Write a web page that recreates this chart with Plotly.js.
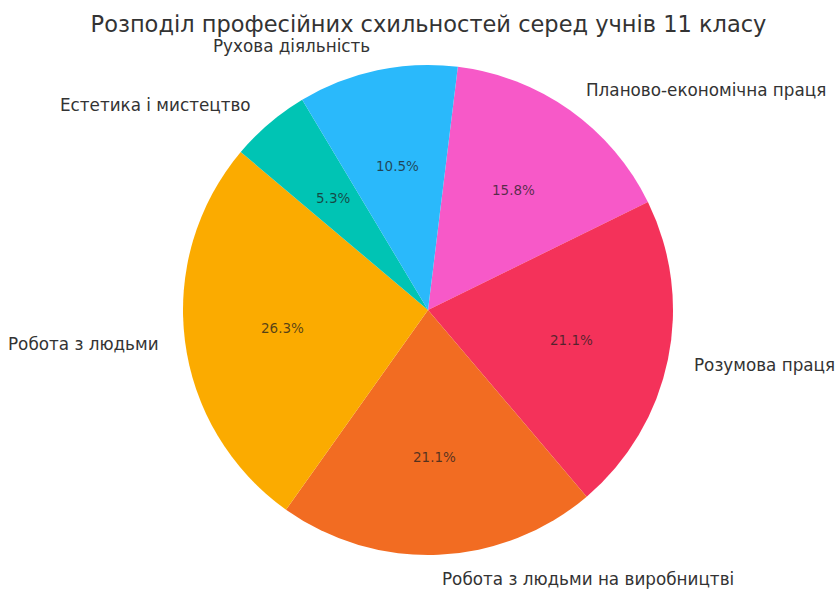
<!DOCTYPE html>
<html>
<head>
<meta charset="utf-8">
<script src="https://cdn.plot.ly/plotly-3.0.1.min.js"></script>
<style>html,body{margin:0;padding:0;background:#fff;}#chart{width:837px;height:589px;}</style>
</head>
<body>
<div id="chart"></div>
<script>
// Data (clockwise order starting near 12 o'clock)
const categories = ["Планово-економічна праця", "Розумова праця", "Робота з людьми на виробництві", "Робота з людьми", "Естетика і мистецтво", "Рухова діяльність"];
const counts = [3, 4, 4, 5, 1, 2];
const colors = ["#f759c8", "#f4325a", "#f26c22", "#fbab00", "#00c4b4", "#2ab9fb"];

// Layout constants (pixels)
const W = 837, H = 589;
const CX = 428, CY = 310, R = 245;
const ROT = 7; // degrees clockwise from 12 o'clock

const total = counts.reduce((a, b) => a + b, 0);
const annotations = [];
let start = 90 - ROT;
counts.forEach((v, i) => {
  const sweep = v / total * 360;
  const mid = (start - sweep / 2) * Math.PI / 180;
  start -= sweep;
  const lx = CX + 1.1 * R * Math.cos(mid);
  const ly = CY - 1.1 * R * Math.sin(mid);
  annotations.push({
    x: lx / W, y: 1 - ly / H, xref: "paper", yref: "paper",
    text: categories[i], showarrow: false,
    xanchor: Math.cos(mid) > 0 ? "left" : "right", yanchor: "middle",
    font: {family: "DejaVu Sans", size: 16.8, color: "#333333"}
  });
  const px = CX + 0.6 * R * Math.cos(mid);
  const py = CY - 0.6 * R * Math.sin(mid);
  annotations.push({
    x: px / W, y: 1 - py / H, xref: "paper", yref: "paper",
    text: (v / total * 100).toFixed(1) + "%", showarrow: false,
    xanchor: "center", yanchor: "middle",
    font: {family: "DejaVu Sans", size: 13.5, color: "rgba(30,30,30,0.75)"}
  });
});

const trace = {
  type: "pie",
  labels: categories,
  values: counts,
  sort: false,
  direction: "clockwise",
  rotation: ROT,
  marker: {colors: colors, line: {width: 0}},
  textinfo: "none",
  hoverinfo: "label+percent",
  domain: {x: [(CX - R) / W, (CX + R) / W], y: [1 - (CY + R) / H, 1 - (CY - R) / H]},
  showlegend: false
};

const layout = {
  width: W, height: H,
  margin: {l: 0, r: 0, t: 0, b: 0},
  paper_bgcolor: "#ffffff",
  title: {
    text: "Розподіл професійних схильностей серед учнів 11 класу",
    font: {family: "DejaVu Sans", size: 22.5, color: "#333333"},
    x: (CX + 0.5) / W, xanchor: "center", y: 1 - 24 / H, yanchor: "middle"
  },
  annotations: annotations,
  showlegend: false
};

Plotly.newPlot("chart", [trace], layout, {displayModeBar: false, staticPlot: true});
</script>
</body>
</html>
